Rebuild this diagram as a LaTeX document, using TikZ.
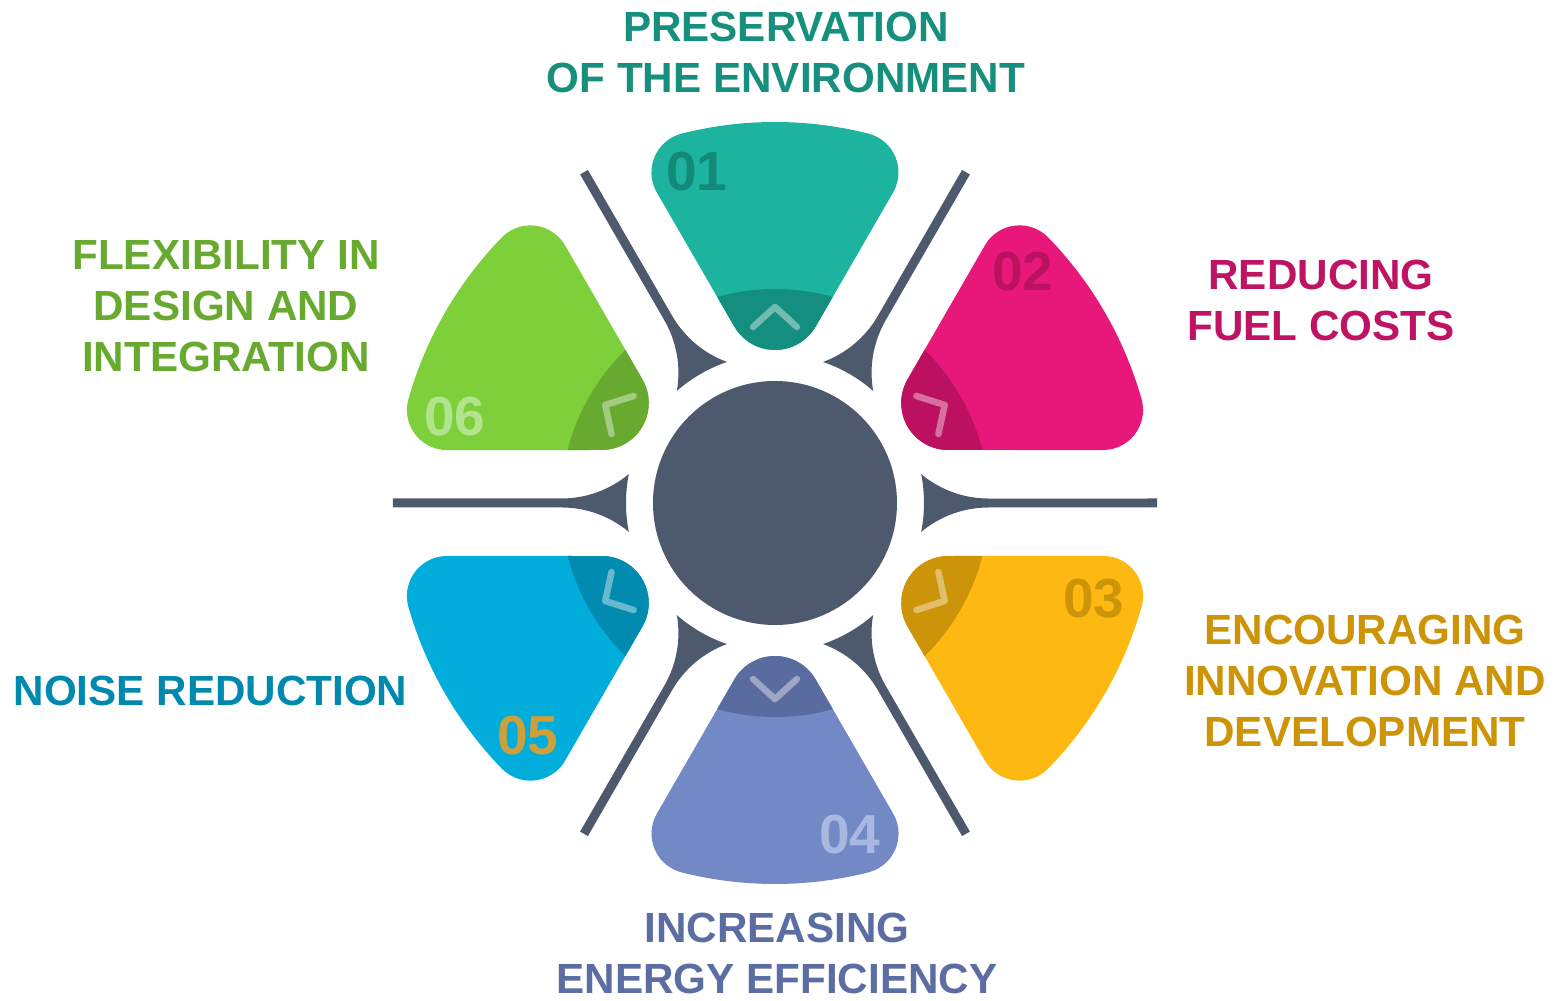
\documentclass[tikz,border=0pt]{standalone}
\usepackage{fontspec}
\setmainfont{Liberation Sans}
\definecolor{slate}{HTML}{4D5A6D}
\definecolor{tealA}{HTML}{1CB39F}\definecolor{tealB}{HTML}{148F7F}
\definecolor{pinkA}{HTML}{E8177A}\definecolor{pinkB}{HTML}{BC1160}
\definecolor{yelA}{HTML}{FDB812}\definecolor{yelB}{HTML}{CC9408}
\definecolor{periA}{HTML}{7289C6}\definecolor{periB}{HTML}{5A6B9F}
\definecolor{cyanA}{HTML}{02ADDC}\definecolor{cyanB}{HTML}{028BB1}
\definecolor{grnA}{HTML}{7ED03B}\definecolor{grnB}{HTML}{68A92F}
\definecolor{labteal}{HTML}{178F7D}
\definecolor{labpink}{HTML}{BE1463}
\definecolor{labyel}{HTML}{CC9406}
\definecolor{labperi}{HTML}{5B6DA2}
\definecolor{labcyan}{HTML}{0089AF}
\definecolor{labgrn}{HTML}{68AA30}
\definecolor{numA}{HTML}{138A78}
\definecolor{numB}{HTML}{B91260}
\definecolor{numC}{HTML}{CC9408}
\definecolor{numD}{HTML}{A9B8E0}
\definecolor{numE}{HTML}{CDA03B}
\definecolor{numF}{HTML}{B2E48D}
\begin{document}
\begin{tikzpicture}[x=1pt,y=1pt,
  petal shape/.style={insert path={(40.70,176.5) -- (118.14,310.61)
      arc[start angle=-30,end angle=75.82,radius=40]
      arc[start angle=75.82,end angle=104.18,radius=381]
      arc[start angle=104.18,end angle=210,radius=40]
      -- (-40.70,176.5)
      arc[start angle=210,end angle=330,radius=47] -- cycle}},
  sepfill/.style={fill=slate},
  chevron/.style={draw=white,draw opacity=0.4,line width=6.5,line cap=round,line join=round},
  lbl/.style={font=\fontsize{42.2}{51}\selectfont\bfseries,align=center,inner sep=0,anchor=north},
  num/.style={font=\fontsize{55}{60}\selectfont\bfseries,inner sep=0}]
\useasboundingbox (-775,-498) rectangle (784,503);
\fill[white] (-775,-498) rectangle (784,503);
% separators
\foreach \a in {0,60,...,300}{
  \begin{scope}[rotate=\a]
    \fill[sepfill] (146.17,-28.92) arc[start angle=-11.19,end angle=11.19,radius=149]
      arc[start angle=230.12,end angle=270,radius=105]
      -- (382,4.5) -- (382,-4.5) -- (213.5,-4.5)
      arc[start angle=90,end angle=129.88,radius=105] -- cycle;
  \end{scope}
}
% hub
\node[circle,fill=slate,minimum size=244,inner sep=0] (hub) at (0,0) {};
% petals
\foreach \r/\ca/\cb in {0/tealA/tealB,-60/pinkA/pinkB,-120/yelA/yelB,180/periA/periB,120/cyanA/cyanB,60/grnA/grnB}{
  \begin{scope}[rotate=\r]
    \fill[\ca,petal shape];
    \begin{scope}
      \clip[petal shape];
      \fill[\cb] (0,0) circle[radius=214];
    \end{scope}
    \draw[chevron] (-22,176) -- (0,196) -- (22,176);
  \end{scope}
}
% numbers
\node[num,text=numA] (n1) at (-78,331) {01};
\node[num,text=numB] (n2) at (248,231) {02};
\node[num,text=numC] (n3) at (319,-96) {03};
\node[num,text=numD] (n4) at (75,-332) {04};
\node[num,text=numE] (n5) at (-247,-233) {05};
\node[num,text=numF] (n6) at (-320,86) {06};
% labels
\node[lbl,text=labteal] (l1) at (11,491) {PRESERVATION\\OF THE ENVIRONMENT};
\node[lbl,text=labpink] (l2) at (546,243) {REDUCING\\FUEL COSTS};
\node[lbl,text=labyel] (l3) at (590,-112) {ENCOURAGING\\INNOVATION AND\\DEVELOPMENT};
\node[lbl,text=labperi] (l4) at (2,-410) {INCREASING\\ENERGY EFFICIENCY};
\node[lbl,text=labcyan] (l5) at (-564.5,-173) {NOISE REDUCTION};
\node[lbl,text=labgrn] (l6) at (-549,263) {FLEXIBILITY IN\\DESIGN AND\\INTEGRATION};
\end{tikzpicture}
\end{document}
